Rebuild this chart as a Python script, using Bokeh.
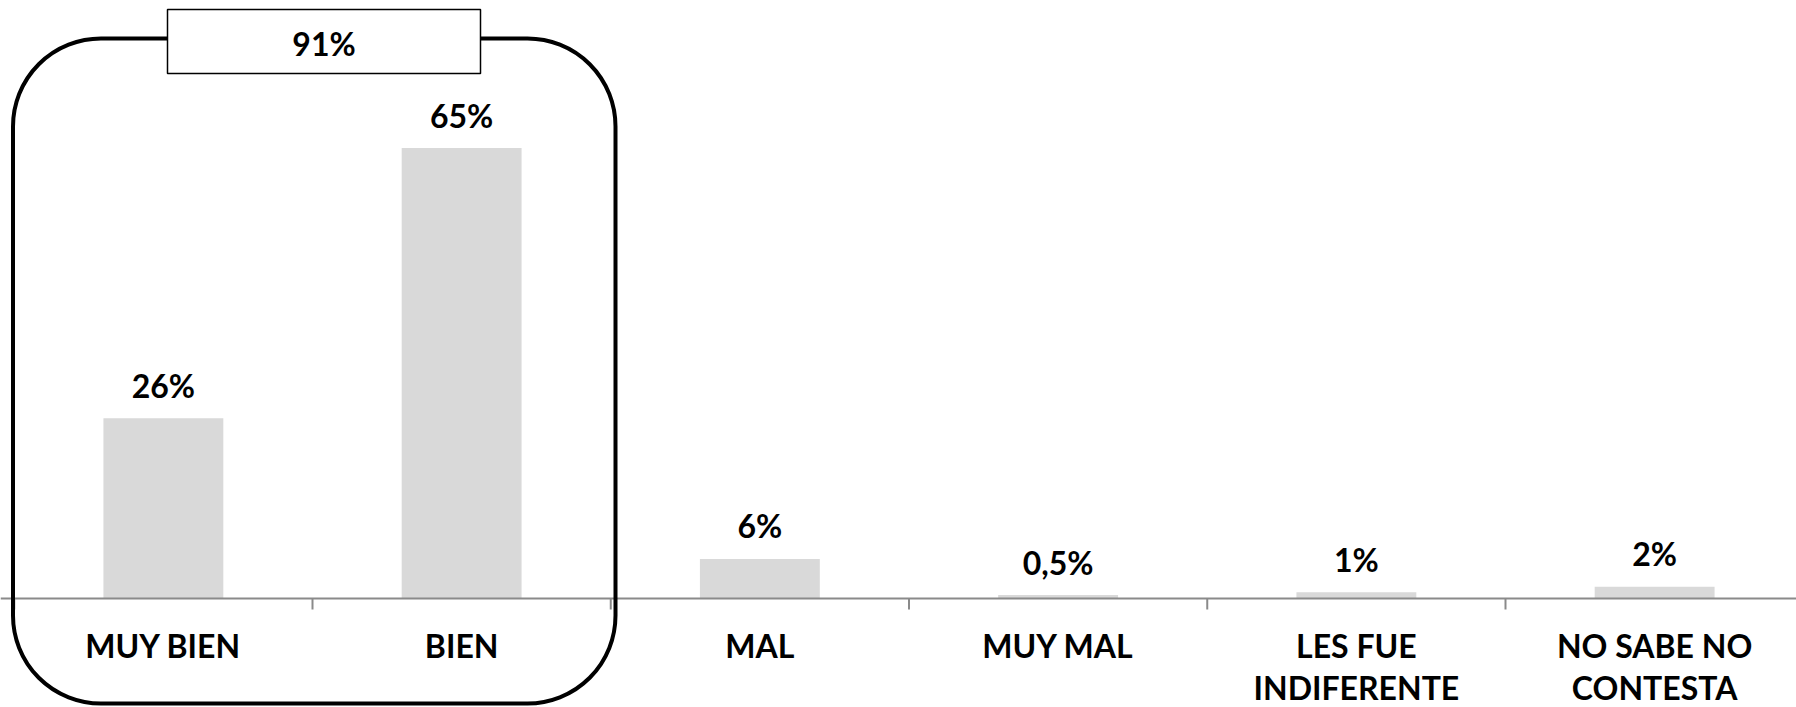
from bokeh.plotting import figure
from bokeh.models import ColumnDataSource, Range1d, BoxAnnotation, Label, Span
from bokeh.core.properties import value
from bokeh.embed import file_html
from bokeh.resources import INLINE
import numpy as np

# ---- data ----
categories = ["MUY BIEN", "BIEN", "MAL", "MUY MAL", "LES FUE\nINDIFERENTE", "NO SABE NO\nCONTESTA"]
values = [26, 65, 5.7, 0.5, 0.9, 1.7]
value_labels = ["26%", "65%", "6%", "0,5%", "1%", "2%"]
group_label = "91%"

# ---- layout constants (pixels) ----
W, H = 1796, 707
CAT_PX = 298.25          # width of one category
LEFT_PX = 13.75          # left edge of first category
AXIS_PX = 598            # axis position from top
K = 6.93                 # pixels per percentage point
FONT = value("Lato")

def ydata(px_from_top):
    return (AXIS_PX - px_from_top) / K

def xdata(px_from_left):
    return (px_from_left - LEFT_PX) / CAT_PX

p = figure(width=W, height=H, output_backend="svg", toolbar_location=None,
           x_range=Range1d(xdata(0), xdata(W)), y_range=Range1d(ydata(H), ydata(0)),
           min_border=0, outline_line_color=None)
p.xaxis.visible = False
p.yaxis.visible = False
p.xgrid.visible = False
p.ygrid.visible = False
p.background_fill_color = "white"
p.border_fill_color = "white"

n = len(categories)
centers = np.arange(n) + 0.5
line1 = [c.split("\n")[0] for c in categories]
line2 = [c.split("\n")[1] if "\n" in c else "" for c in categories]

src = ColumnDataSource(dict(x=centers, top=values, lab=value_labels,
                            laby=[v + 33 / K for v in values]))
src1 = ColumnDataSource(dict(x=centers, t=line1))
idx2 = [i for i, t in enumerate(line2) if t]
src2 = ColumnDataSource(dict(x=centers[idx2], t=[line2[i] for i in idx2]))

p.vbar(x="x", top="top", bottom=0, width=0.402, source=src,
       fill_color="#D9D9D9", line_color=None)

# category axis line and ticks
p.add_layout(Span(location=0, dimension="width", line_color="#8a8a8a", line_width=2))
edges = np.arange(n + 1)
p.segment(x0=edges, y0=np.zeros(n + 1), x1=edges, y1=np.full(n + 1, -11 / K),
          line_color="#8a8a8a", line_width=2)

# value labels
p.text(x="x", y="laby", text="lab", source=src, text_font=FONT, text_font_style="bold",
       text_font_size="32px", text_align="center", text_baseline="middle", text_color="black")

# category labels
p.text(x="x", y=ydata(645), text="t", source=src1, text_font=FONT,
       text_font_style="bold", text_font_size="32px", text_align="center",
       text_baseline="middle", text_color="black")
p.text(x="x", y=ydata(687), text="t", source=src2, text_font=FONT,
       text_font_style="bold", text_font_size="32px", text_align="center",
       text_baseline="middle", text_color="black")

# rounded group box around the first two categories
p.add_layout(BoxAnnotation(left=xdata(12.5), right=xdata(615), top=ydata(38), bottom=ydata(703),
                           fill_color=None, fill_alpha=0, line_color="black", line_alpha=1,
                           line_width=4, border_radius=88))
# total box
p.add_layout(BoxAnnotation(left=xdata(167), right=xdata(480), top=ydata(9), bottom=ydata(73),
                           fill_color="white", fill_alpha=1, line_color="black", line_alpha=1,
                           line_width=1.5))
p.add_layout(Label(x=xdata(323.5), y=ydata(43), text=group_label, text_font="Lato",
                   text_font_style="bold", text_font_size="32px", text_align="center",
                   text_baseline="middle", text_color="black"))

open("out.html", "w").write(file_html(p, INLINE))
